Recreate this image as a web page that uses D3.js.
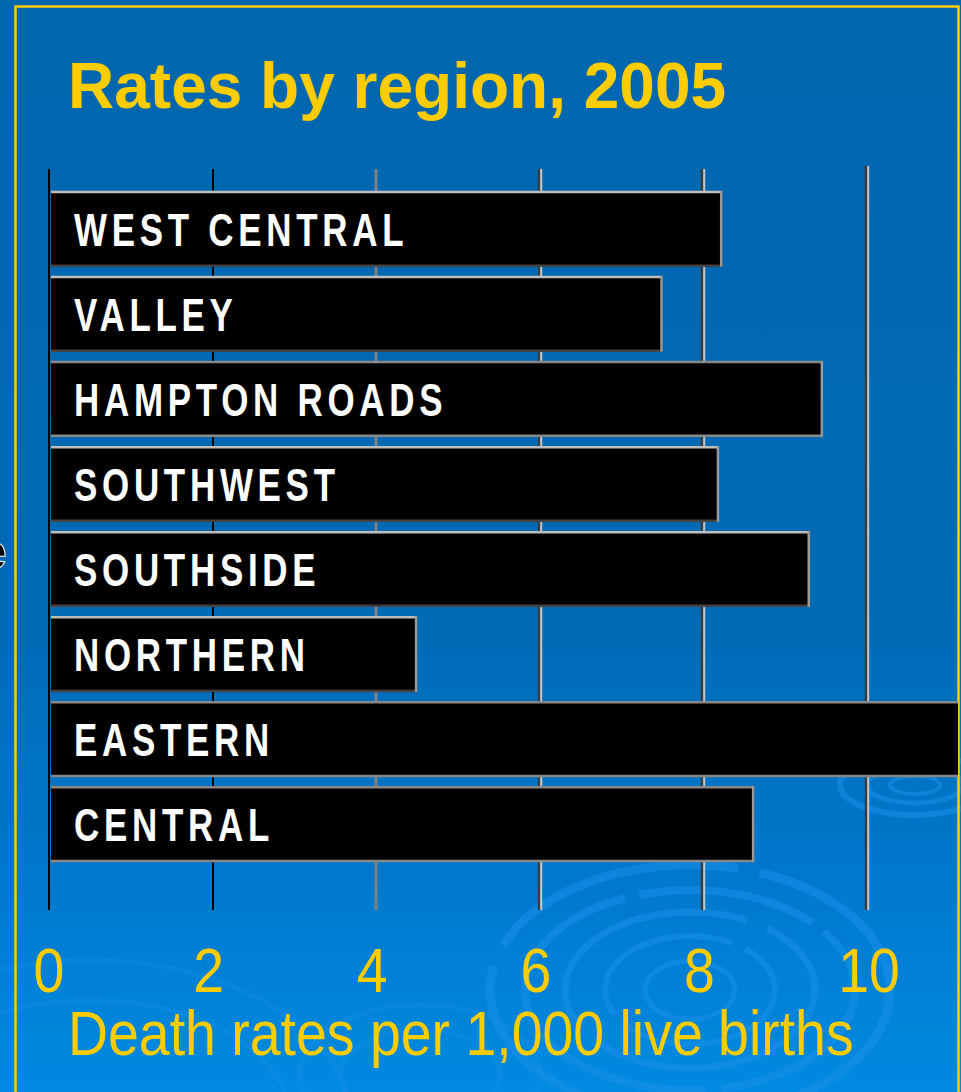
<!DOCTYPE html>
<html>
<head>
<meta charset="utf-8">
<script src="https://cdn.jsdelivr.net/npm/d3@7"></script>
<style>
  html, body { margin: 0; padding: 0; background: #0066AE; }
  svg { display: block; }
</style>
</head>
<body>
<script>
// ---- data ----
const categories = ["WEST CENTRAL", "VALLEY", "HAMPTON ROADS", "SOUTHWEST", "SOUTHSIDE", "NORTHERN", "EASTERN", "CENTRAL"];
const rates = [8.23, 7.5, 9.46, 8.19, 9.3, 4.5, 11.15, 8.62];
const tickValues = [0, 2, 4, 6, 8, 10];
const titleText = "Rates by region, 2005";
const axisTitle = "Death rates per 1,000 live births";

const W = 961, H = 1092;
const yellow = "#FFCC00";

const svg = d3.select("body").append("svg").attr("width", W).attr("height", H);
const defs = svg.append("defs");

const grad = defs.append("linearGradient").attr("id", "bg").attr("x1", 0).attr("y1", 0).attr("x2", 0).attr("y2", 1);
grad.append("stop").attr("offset", "0%").attr("stop-color", "#0066AE");
grad.append("stop").attr("offset", "55%").attr("stop-color", "#006AB5");
grad.append("stop").attr("offset", "80%").attr("stop-color", "#0078CC");
grad.append("stop").attr("offset", "100%").attr("stop-color", "#008AE2");

defs.append("clipPath").attr("id", "frameClip")
  .append("rect").attr("x", 17).attr("y", 8).attr("width", 941).attr("height", H);

svg.append("rect").attr("width", W).attr("height", H).attr("fill", "url(#bg)");

// decorative ripples
const rip = svg.append("g").attr("fill", "none").attr("stroke", "#1a90ea").attr("stroke-opacity", 0.55);
[[200,125],[165,100],[125,78],[85,54],[45,29]].forEach(([rx, ry], i) => {
  rip.append("ellipse").attr("cx", 690).attr("cy", 990).attr("rx", rx).attr("ry", ry)
    .attr("stroke-width", 9 - i).attr("stroke-dasharray", i % 2 ? "180 14" : "260 22");
});
[[75,30],[48,18],[25,9]].forEach(([rx, ry], i) => {
  rip.append("ellipse").attr("cx", 915).attr("cy", 785).attr("rx", rx).attr("ry", ry)
    .attr("stroke-width", 6 - i);
});
[[260,160],[200,120]].forEach(([rx, ry], i) => {
  rip.append("ellipse").attr("cx", 90).attr("cy", 1120).attr("rx", rx).attr("ry", ry)
    .attr("stroke-width", 5).attr("stroke-opacity", 0.3);
});
[[120,70],[80,45]].forEach(([rx, ry]) => {
  rip.append("ellipse").attr("cx", 420).attr("cy", 1075).attr("rx", rx).attr("ry", ry)
    .attr("stroke-width", 5).attr("stroke-opacity", 0.3);
});

// partially visible text at the left edge
svg.append("text").attr("x", -21).attr("y", 569).attr("font-family", "Liberation Sans, Arial, sans-serif")
  .attr("font-weight", "bold").attr("font-size", 50).attr("fill", "#000").attr("stroke", "#fff").attr("stroke-width", 1).text("e");

// frame
svg.append("rect").attr("x", 15.5).attr("y", 6.5).attr("width", 943).attr("height", H + 10)
  .attr("fill", "none").attr("stroke", yellow).attr("stroke-width", 2.5);

// title
svg.append("text").attr("x", 68).attr("y", 108)
  .attr("font-family", "Liberation Sans, Arial, sans-serif").attr("font-weight", "bold")
  .attr("font-size", 64).attr("fill", yellow).text(titleText);

// scales
const x = d3.scaleLinear().domain([0, 10]).range([49, 867]);
const y = d3.scaleBand().domain(categories).range([191, 862]).paddingInner(0.11).paddingOuter(0);

const plot = svg.append("g").attr("clip-path", "url(#frameClip)");

// gridlines
const grid = plot.append("g");
tickValues.forEach(v => {
  const gx = Math.round(x(v));
  const top = v === 10 ? 166 : 169, bot = 910;
  if (v <= 2) {
    grid.append("line").attr("x1", gx).attr("x2", gx).attr("y1", top).attr("y2", bot)
      .attr("stroke", "#000").attr("stroke-width", 2);
  } else if (v === 4) {
    grid.append("line").attr("x1", gx).attr("x2", gx).attr("y1", top).attr("y2", bot)
      .attr("stroke", "#808080").attr("stroke-width", 3);
  } else {
    grid.append("line").attr("x1", gx - 1).attr("x2", gx - 1).attr("y1", top).attr("y2", bot)
      .attr("stroke", "#3c3c3c").attr("stroke-width", 2.5);
    grid.append("line").attr("x1", gx + 1.2).attr("x2", gx + 1.2).attr("y1", top).attr("y2", bot)
      .attr("stroke", "#c8c8c8").attr("stroke-width", 2);
  }
});

// bars
const bars = plot.append("g").selectAll("g").data(categories).join("g");
bars.append("rect")
  .attr("x", x(0) + 2)
  .attr("y", d => y(d))
  .attr("width", (d, i) => x(rates[i]) - x(0) - 2)
  .attr("height", y.bandwidth())
  .attr("fill", "#000");
bars.append("line") // top edge
  .attr("x1", x(0) + 2).attr("x2", (d, i) => x(rates[i]))
  .attr("y1", d => y(d) + 1).attr("y2", d => y(d) + 1)
  .attr("stroke", (d, i) => [2, 6, 7].includes(i) ? "#888" : "#bdbdbd").attr("stroke-width", 2.5);
bars.append("line") // bottom edge
  .attr("x1", x(0) + 2).attr("x2", (d, i) => x(rates[i]))
  .attr("y1", d => y(d) + y.bandwidth() - 1).attr("y2", d => y(d) + y.bandwidth() - 1)
  .attr("stroke", (d, i) => [2, 6, 7].includes(i) ? "#888" : "#444").attr("stroke-width", 2.5);
bars.append("line") // right edge
  .attr("x1", (d, i) => x(rates[i]) - 1).attr("x2", (d, i) => x(rates[i]) - 1)
  .attr("y1", d => y(d)).attr("y2", d => y(d) + y.bandwidth())
  .attr("stroke", "#9a9a9a").attr("stroke-width", 2.5);

// bar labels
bars.append("text")
  .attr("transform", d => `translate(74, ${y(d) + y.bandwidth() * 0.727}) scale(0.76, 1)`)
  .attr("font-family", "Liberation Sans, Arial, sans-serif").attr("font-weight", "bold")
  .attr("font-size", 46).attr("letter-spacing", 6.2)
  .attr("fill", "#fff").text(d => d);

// tick labels
svg.append("g").selectAll("text").data(tickValues).join("text")
  .attr("transform", d => `translate(${x(d) - (d === 10 ? -2 : d === 0 ? 0 : 4)}, 992) scale(0.88, 1)`)
  .attr("text-anchor", "middle")
  .attr("font-family", "Liberation Sans, Arial, sans-serif")
  .attr("font-size", 63).attr("fill", yellow).text(d => d);

// axis title
svg.append("text")
  .attr("transform", "translate(68, 1055) scale(0.88, 1)")
  .attr("font-family", "Liberation Sans, Arial, sans-serif")
  .attr("font-size", 63).attr("fill", yellow).text(axisTitle);
</script>
</body>
</html>
